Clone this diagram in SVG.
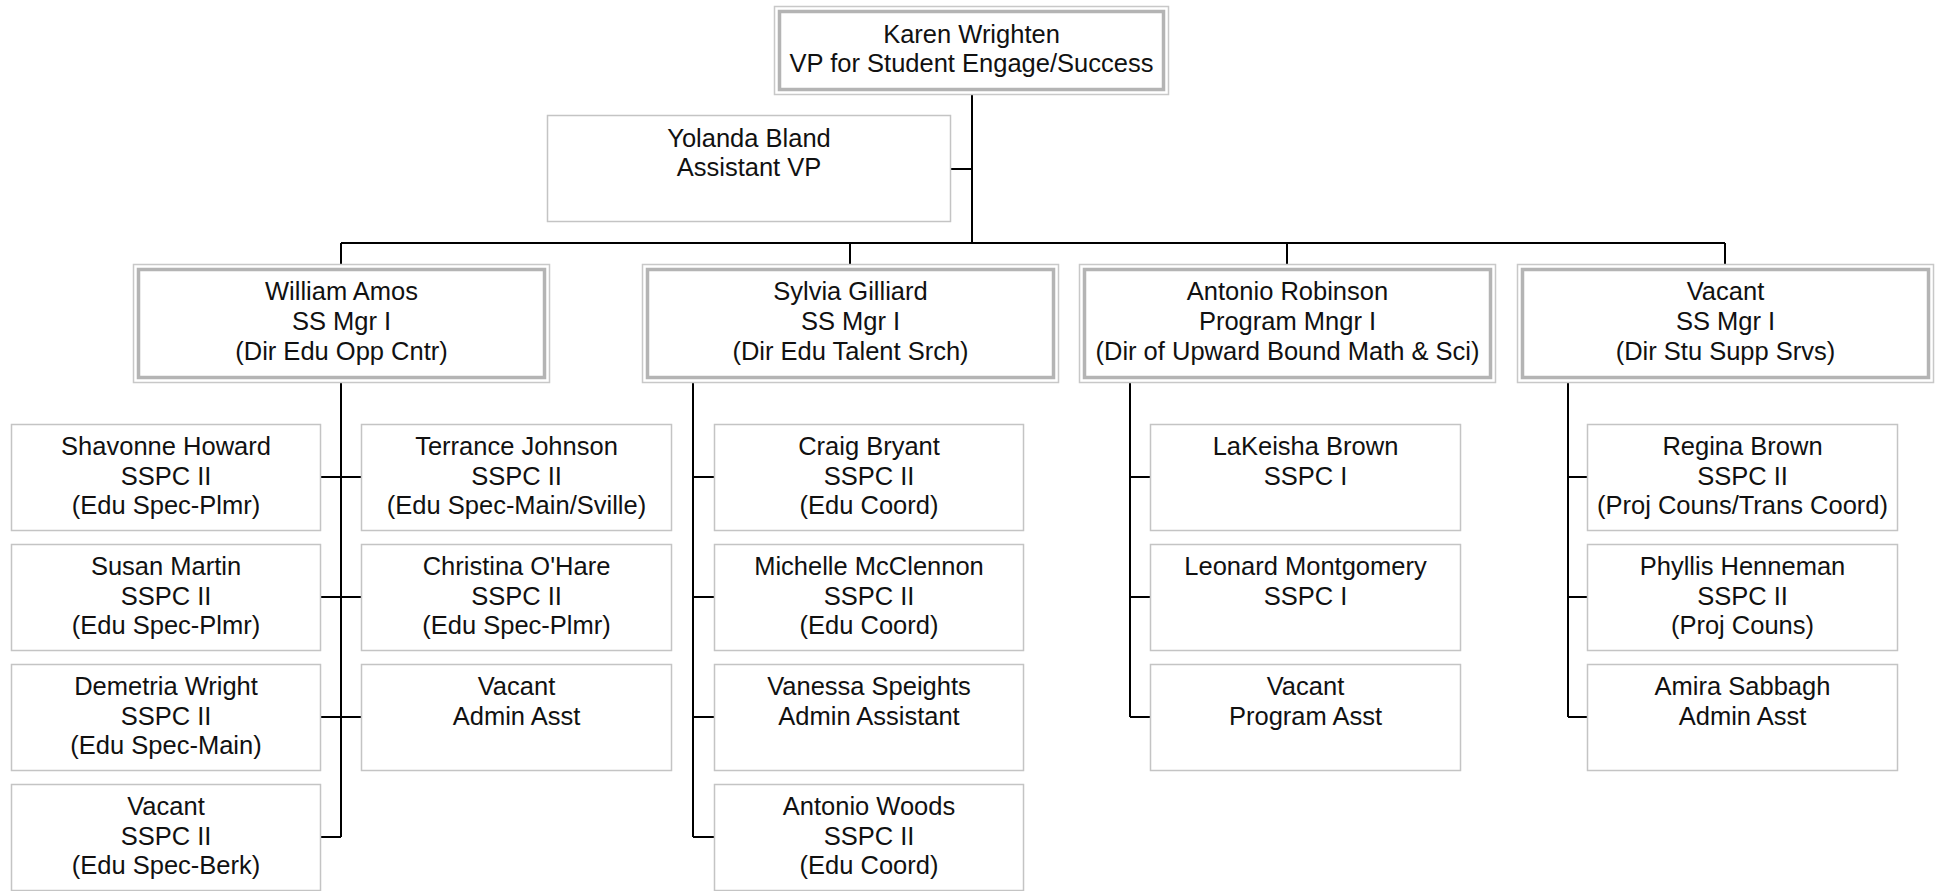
<svg xmlns="http://www.w3.org/2000/svg" width="1937" height="891" viewBox="0 0 1937 891">
<style>
  .bg { fill: #ffffff; }
  .box { fill: #ffffff; stroke: #c4c4c4; stroke-width: 1.5; }
  .outer { fill: #ffffff; stroke: #c8c8c8; stroke-width: 1.5; }
  .inner { fill: none; stroke: #b4b4b4; stroke-width: 3.5; }
  .t { font-family: "Liberation Sans", Arial, sans-serif; font-size: 25.5px; fill: #111111; text-anchor: middle; }
  .conn { fill: none; stroke: #000000; stroke-width: 2; }
</style>
<rect class="bg" x="0" y="0" width="1937" height="891"/>

<g id="connectors">
  <path class="conn" d="M972,95 V243 M951,169 H972 M341,243 H1725 M341,243 V264 M850,243 V264 M1287,243 V264 M1725,243 V264"/>
  <path class="conn" d="M341,383 V837 M320,477 H361 M320,597 H361 M320,717 H361 M320,837 H341"/>
  <path class="conn" d="M693,383 V837 M693,477 H714 M693,597 H714 M693,717 H714 M693,837 H714"/>
  <path class="conn" d="M1130,383 V717 M1130,477 H1150 M1130,597 H1150 M1130,717 H1150"/>
  <path class="conn" d="M1568,383 V717 M1568,477 H1587 M1568,597 H1587 M1568,717 H1587"/>
</g>

<g id="karen">
  <rect class="outer" x="774.5" y="6.5" width="394" height="88"/>
  <rect class="inner" x="779.5" y="11.5" width="384" height="78"/>
  <text class="t" x="971.5" y="43">Karen Wrighten<tspan x="971.5" dy="29">VP for Student Engage/Success</tspan></text>
</g>

<g id="yolanda">
  <rect class="box" x="547.5" y="115.5" width="403" height="106"/>
  <text class="t" x="749" y="146.5">Yolanda Bland<tspan x="749" dy="29.5">Assistant VP</tspan></text>
</g>

<g id="william">
  <rect class="outer" x="133.5" y="264.5" width="416" height="118"/>
  <rect class="inner" x="138.5" y="269.5" width="406" height="108"/>
  <text class="t" x="341.5" y="300">William Amos<tspan x="341.5" dy="30">SS Mgr I</tspan><tspan x="341.5" dy="30">(Dir Edu Opp Cntr)</tspan></text>
</g>

<g id="sylvia">
  <rect class="outer" x="642.5" y="264.5" width="416" height="118"/>
  <rect class="inner" x="647.5" y="269.5" width="406" height="108"/>
  <text class="t" x="850.5" y="300">Sylvia Gilliard<tspan x="850.5" dy="30">SS Mgr I</tspan><tspan x="850.5" dy="30">(Dir Edu Talent Srch)</tspan></text>
</g>

<g id="antonio">
  <rect class="outer" x="1079.5" y="264.5" width="416" height="118"/>
  <rect class="inner" x="1084.5" y="269.5" width="406" height="108"/>
  <text class="t" x="1287.5" y="300">Antonio Robinson<tspan x="1287.5" dy="30">Program Mngr I</tspan><tspan x="1287.5" dy="30">(Dir of Upward Bound Math &amp; Sci)</tspan></text>
</g>

<g id="vacant-dir">
  <rect class="outer" x="1517.5" y="264.5" width="416" height="118"/>
  <rect class="inner" x="1522.5" y="269.5" width="406" height="108"/>
  <text class="t" x="1725.5" y="300">Vacant<tspan x="1725.5" dy="30">SS Mgr I</tspan><tspan x="1725.5" dy="30">(Dir Stu Supp Srvs)</tspan></text>
</g>

<!-- William's staff -->
<g id="shavonne">
  <rect class="box" x="11.5" y="424.5" width="309" height="106"/>
  <text class="t" x="166" y="455">Shavonne Howard<tspan x="166" dy="29.5">SSPC II</tspan><tspan x="166" dy="29.5">(Edu Spec-Plmr)</tspan></text>
</g>
<g id="susan">
  <rect class="box" x="11.5" y="544.5" width="309" height="106"/>
  <text class="t" x="166" y="575">Susan Martin<tspan x="166" dy="29.5">SSPC II</tspan><tspan x="166" dy="29.5">(Edu Spec-Plmr)</tspan></text>
</g>
<g id="demetria">
  <rect class="box" x="11.5" y="664.5" width="309" height="106"/>
  <text class="t" x="166" y="695">Demetria Wright<tspan x="166" dy="29.5">SSPC II</tspan><tspan x="166" dy="29.5">(Edu Spec-Main)</tspan></text>
</g>
<g id="vacant-berk">
  <rect class="box" x="11.5" y="784.5" width="309" height="106"/>
  <text class="t" x="166" y="815">Vacant<tspan x="166" dy="29.5">SSPC II</tspan><tspan x="166" dy="29.5">(Edu Spec-Berk)</tspan></text>
</g>
<g id="terrance">
  <rect class="box" x="361.5" y="424.5" width="310" height="106"/>
  <text class="t" x="516.5" y="455">Terrance Johnson<tspan x="516.5" dy="29.5">SSPC II</tspan><tspan x="516.5" dy="29.5">(Edu Spec-Main/Sville)</tspan></text>
</g>
<g id="christina">
  <rect class="box" x="361.5" y="544.5" width="310" height="106"/>
  <text class="t" x="516.5" y="575">Christina O'Hare<tspan x="516.5" dy="29.5">SSPC II</tspan><tspan x="516.5" dy="29.5">(Edu Spec-Plmr)</tspan></text>
</g>
<g id="vacant-admin-w">
  <rect class="box" x="361.5" y="664.5" width="310" height="106"/>
  <text class="t" x="516.5" y="695">Vacant<tspan x="516.5" dy="29.5">Admin Asst</tspan></text>
</g>

<!-- Sylvia's staff -->
<g id="craig">
  <rect class="box" x="714.5" y="424.5" width="309" height="106"/>
  <text class="t" x="869" y="455">Craig Bryant<tspan x="869" dy="29.5">SSPC II</tspan><tspan x="869" dy="29.5">(Edu Coord)</tspan></text>
</g>
<g id="michelle">
  <rect class="box" x="714.5" y="544.5" width="309" height="106"/>
  <text class="t" x="869" y="575">Michelle McClennon<tspan x="869" dy="29.5">SSPC II</tspan><tspan x="869" dy="29.5">(Edu Coord)</tspan></text>
</g>
<g id="vanessa">
  <rect class="box" x="714.5" y="664.5" width="309" height="106"/>
  <text class="t" x="869" y="695">Vanessa Speights<tspan x="869" dy="29.5">Admin Assistant</tspan></text>
</g>
<g id="antonio-woods">
  <rect class="box" x="714.5" y="784.5" width="309" height="106"/>
  <text class="t" x="869" y="815">Antonio Woods<tspan x="869" dy="29.5">SSPC II</tspan><tspan x="869" dy="29.5">(Edu Coord)</tspan></text>
</g>

<!-- Antonio's staff -->
<g id="lakeisha">
  <rect class="box" x="1150.5" y="424.5" width="310" height="106"/>
  <text class="t" x="1305.5" y="455">LaKeisha Brown<tspan x="1305.5" dy="29.5">SSPC I</tspan></text>
</g>
<g id="leonard">
  <rect class="box" x="1150.5" y="544.5" width="310" height="106"/>
  <text class="t" x="1305.5" y="575">Leonard Montgomery<tspan x="1305.5" dy="29.5">SSPC I</tspan></text>
</g>
<g id="vacant-program">
  <rect class="box" x="1150.5" y="664.5" width="310" height="106"/>
  <text class="t" x="1305.5" y="695">Vacant<tspan x="1305.5" dy="29.5">Program Asst</tspan></text>
</g>

<!-- Vacant director's staff -->
<g id="regina">
  <rect class="box" x="1587.5" y="424.5" width="310" height="106"/>
  <text class="t" x="1742.5" y="455">Regina Brown<tspan x="1742.5" dy="29.5">SSPC II</tspan><tspan x="1742.5" dy="29.5">(Proj Couns/Trans Coord)</tspan></text>
</g>
<g id="phyllis">
  <rect class="box" x="1587.5" y="544.5" width="310" height="106"/>
  <text class="t" x="1742.5" y="575">Phyllis Henneman<tspan x="1742.5" dy="29.5">SSPC II</tspan><tspan x="1742.5" dy="29.5">(Proj Couns)</tspan></text>
</g>
<g id="amira">
  <rect class="box" x="1587.5" y="664.5" width="310" height="106"/>
  <text class="t" x="1742.5" y="695">Amira Sabbagh<tspan x="1742.5" dy="29.5">Admin Asst</tspan></text>
</g>
</svg>
